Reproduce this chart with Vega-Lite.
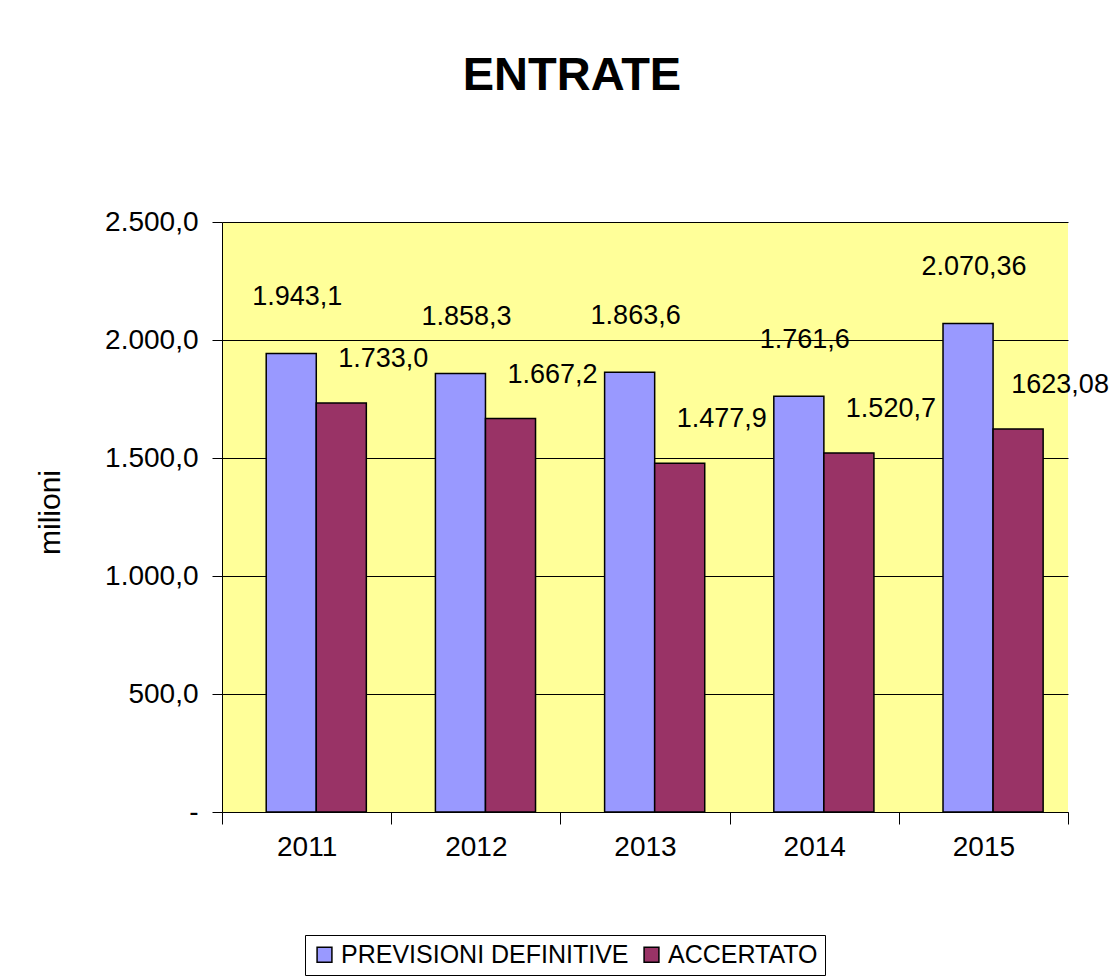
{
  "$schema": "https://vega.github.io/schema/vega-lite/v6.json",
  "autosize": {"type": "none"},
  "padding": {"left": 222, "top": 222, "right": 50, "bottom": 167},
  "width": 846,
  "height": 590,
  "background": "white",
  "title": {
    "text": "ENTRATE",
    "font": "Liberation Sans",
    "fontSize": 47,
    "fontWeight": "bold",
    "color": "black",
    "anchor": "middle",
    "frame": "group",
    "dx": -73,
    "offset": 108
  },
  "data": {
    "values": [
      {"anno": "2011", "serie": "PREVISIONI DEFINITIVE", "valore": 1943.1, "etichetta": "1.943,1"},
      {"anno": "2011", "serie": "ACCERTATO", "valore": 1733.0, "etichetta": "1.733,0"},
      {"anno": "2012", "serie": "PREVISIONI DEFINITIVE", "valore": 1858.3, "etichetta": "1.858,3"},
      {"anno": "2012", "serie": "ACCERTATO", "valore": 1667.2, "etichetta": "1.667,2"},
      {"anno": "2013", "serie": "PREVISIONI DEFINITIVE", "valore": 1863.6, "etichetta": "1.863,6"},
      {"anno": "2013", "serie": "ACCERTATO", "valore": 1477.9, "etichetta": "1.477,9"},
      {"anno": "2014", "serie": "PREVISIONI DEFINITIVE", "valore": 1761.6, "etichetta": "1.761,6"},
      {"anno": "2014", "serie": "ACCERTATO", "valore": 1520.7, "etichetta": "1.520,7"},
      {"anno": "2015", "serie": "PREVISIONI DEFINITIVE", "valore": 2070.36, "etichetta": "2.070,36"},
      {"anno": "2015", "serie": "ACCERTATO", "valore": 1623.08, "etichetta": "1623,08"}
    ]
  },
  "encoding": {
    "x": {
      "field": "anno", "type": "nominal",
      "scale": {"paddingInner": 0, "paddingOuter": 0},
      "axis": {
        "title": null, "labelAngle": 0, "labelFont": "Liberation Sans", "labelFontSize": 28,
        "labelColor": "black", "domainColor": "black", "tickColor": "black",
        "tickSize": 12, "labelPadding": 9, "tickBand": "extent"
      }
    },
    "xOffset": {
      "field": "serie", "type": "nominal", "sort": ["PREVISIONI DEFINITIVE", "ACCERTATO"],
      "scale": {"paddingInner": 0, "paddingOuter": 0.69, "align": 0.64}
    },
    "y": {
      "field": "valore", "type": "quantitative",
      "scale": {"domain": [0, 2500]},
      "axis": {
        "title": "milioni", "values": [0, 500, 1000, 1500, 2000, 2500],
        "format": ",.1f",
        "labelExpr": "datum.value == 0 ? '-' : replace(replace(replace(datum.label, ',', '#'), '.', ','), '#', '.')",
        "labelFont": "Liberation Sans", "labelFontSize": 28, "labelColor": "black",
        "titleFont": "Liberation Sans", "titleFontSize": 30, "titleFontWeight": "normal", "titleColor": "black",
        "titleX": -157, "titleY": 290,
        "grid": true, "gridColor": "black", "gridWidth": 1,
        "domainColor": "black", "tickColor": "black", "tickSize": 10, "labelPadding": 14
      }
    }
  },
  "layer": [
    {
      "mark": {"type": "bar", "stroke": "black", "strokeWidth": 1.5},
      "encoding": {
        "color": {
          "field": "serie", "type": "nominal",
          "sort": ["PREVISIONI DEFINITIVE", "ACCERTATO"],
          "scale": {"domain": ["PREVISIONI DEFINITIVE", "ACCERTATO"], "range": ["#9999FF", "#993366"]},
          "legend": {
            "title": null, "orient": "none", "direction": "horizontal",
            "legendX": 83, "legendY": 713,
            "labelFont": "Liberation Sans", "labelFontSize": 25, "labelColor": "black", "labelLimit": 0,
            "symbolType": "square", "symbolSize": 220, "symbolStrokeColor": "black", "symbolStrokeWidth": 1.5,
            "strokeColor": "black", "padding": 7, "columnPadding": 10, "labelOffset": 4,
            "fillColor": "white"
          }
        }
      }
    },
    {
      "mark": {"type": "text", "font": "Liberation Sans", "fontSize": 27, "color": "black", "baseline": "bottom", "dy": -42, "dx": 6},
      "transform": [{"filter": "datum.serie == 'PREVISIONI DEFINITIVE'"}],
      "encoding": {"text": {"field": "etichetta"}}
    },
    {
      "mark": {"type": "text", "font": "Liberation Sans", "fontSize": 27, "color": "black", "baseline": "bottom", "dy": -30, "dx": 42},
      "transform": [{"filter": "datum.serie == 'ACCERTATO'"}],
      "encoding": {"text": {"field": "etichetta"}}
    }
  ],
  "config": {
    "view": {"fill": "#FFFF99", "stroke": null}
  }
}
